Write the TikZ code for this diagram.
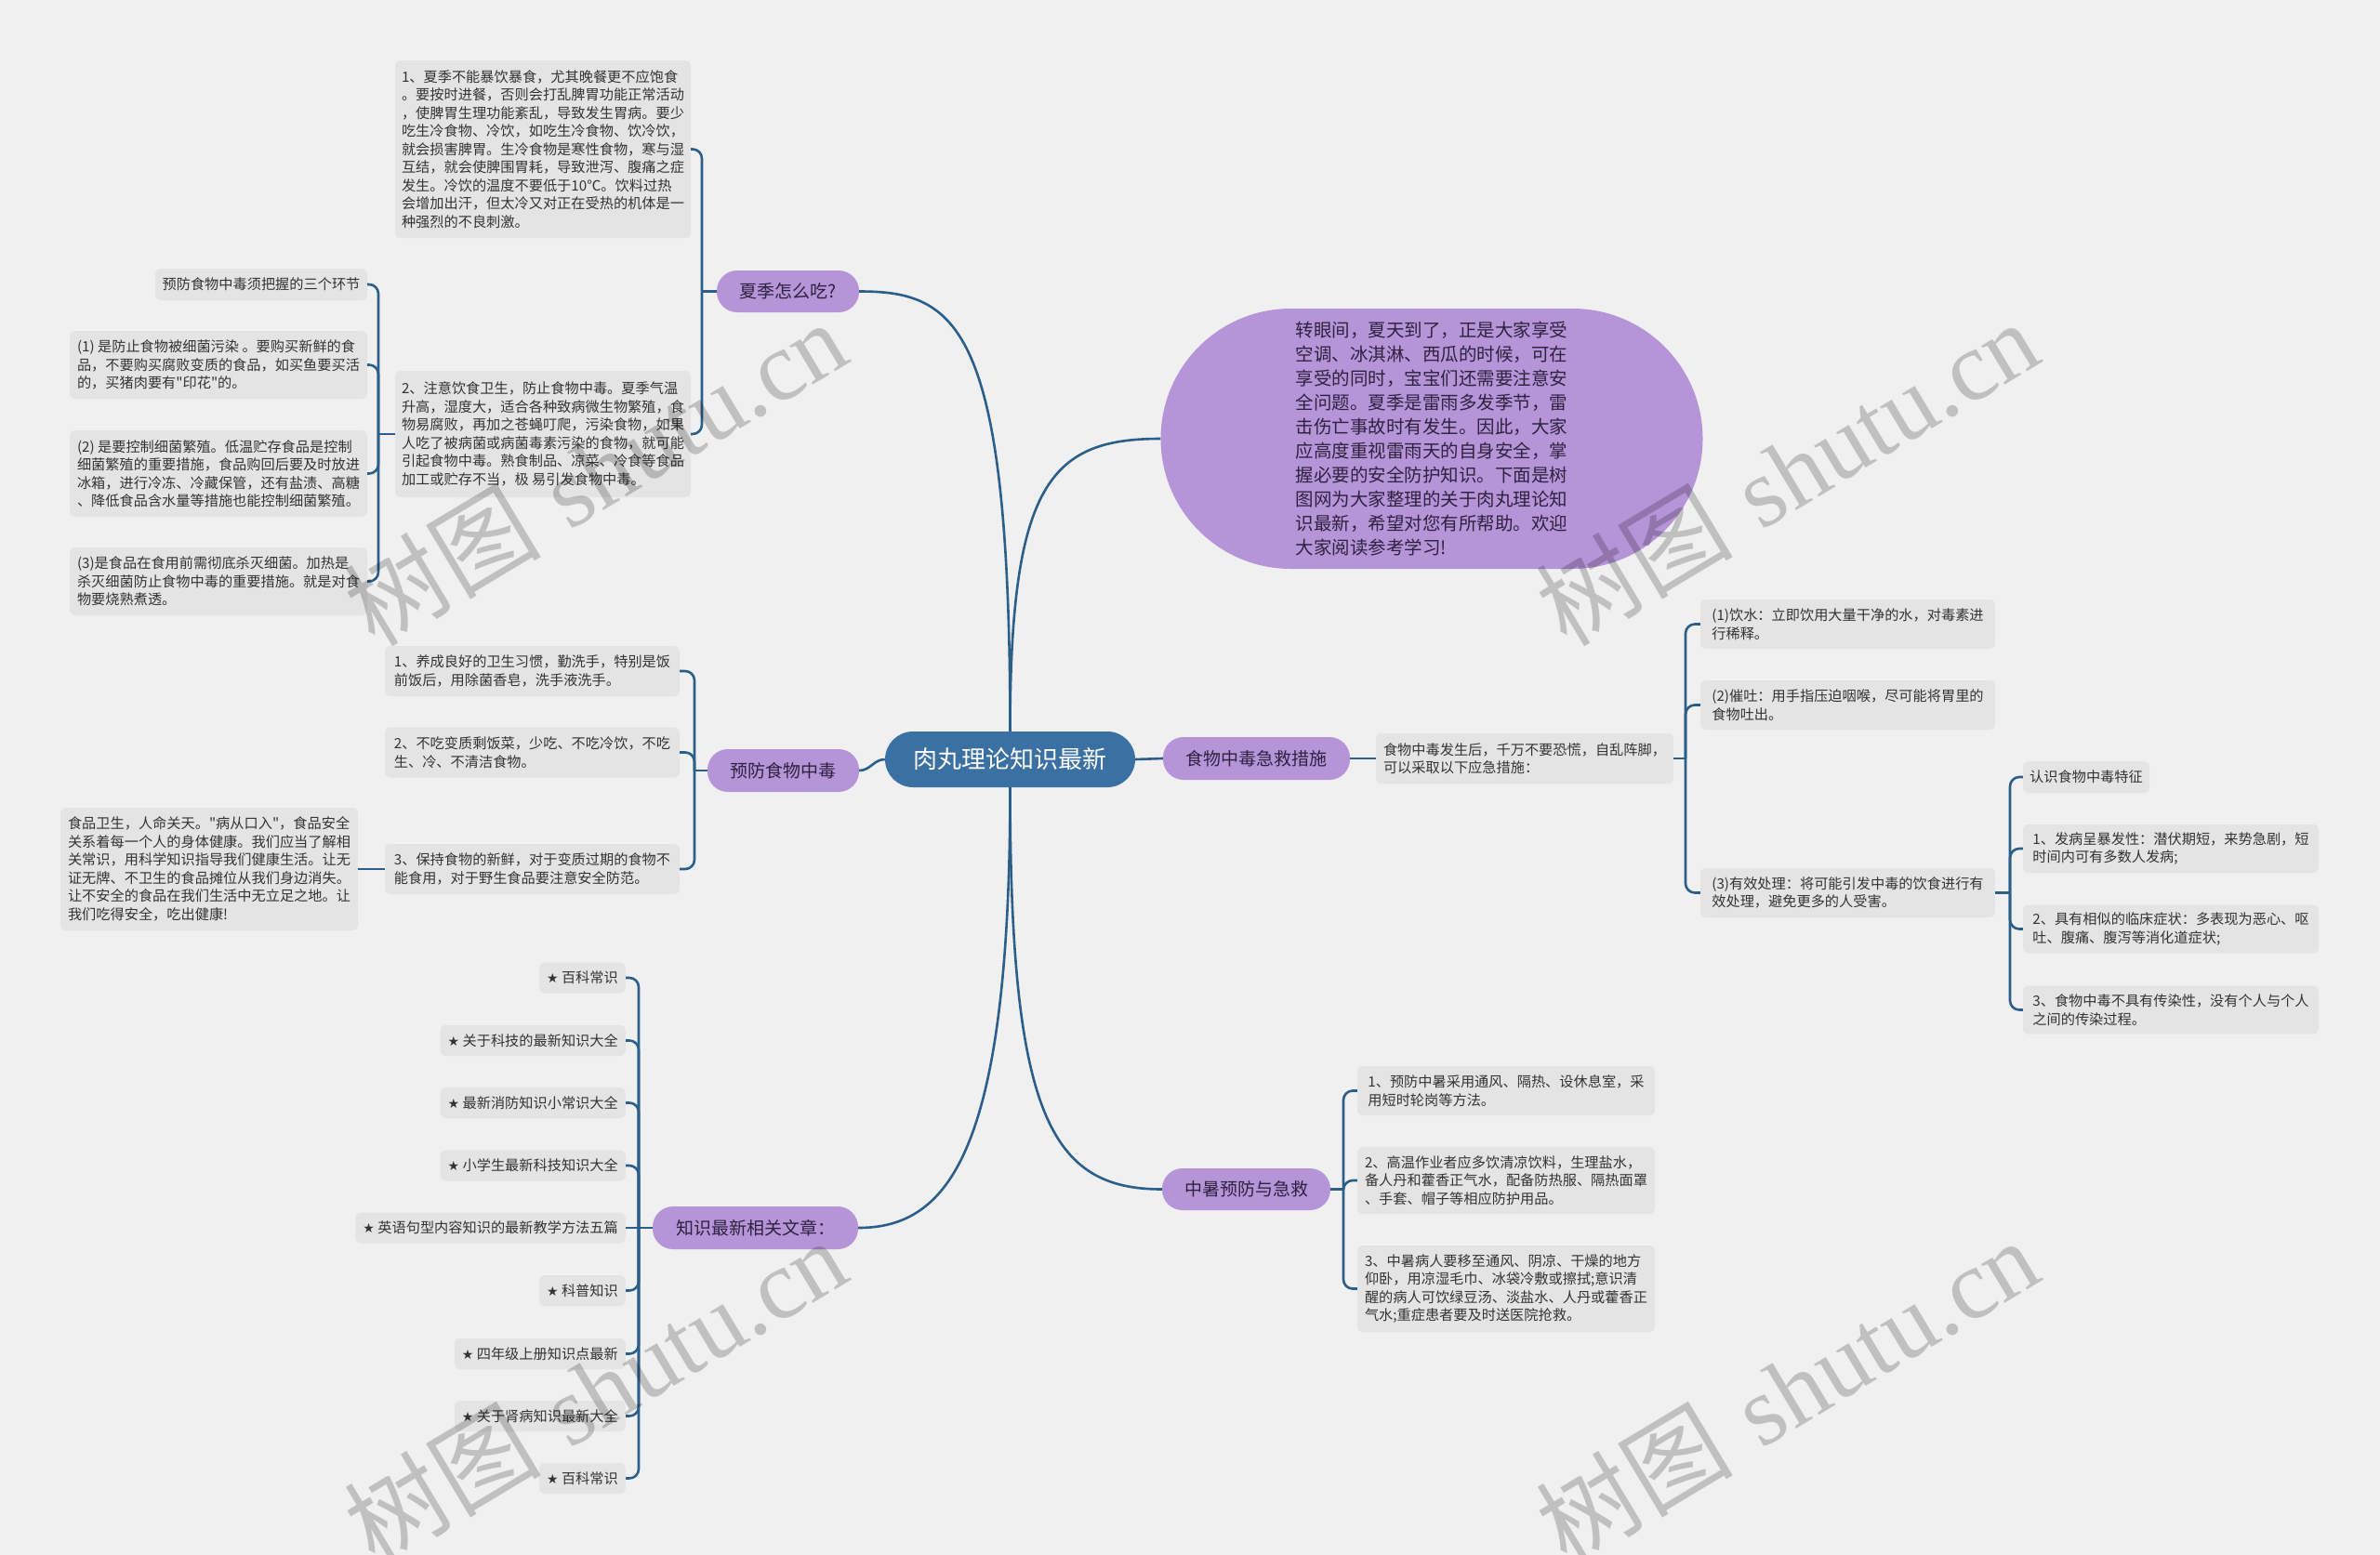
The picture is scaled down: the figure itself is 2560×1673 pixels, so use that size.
\documentclass[tikz,border=0pt]{standalone}
\usepackage{fontspec}
\newfontfamily\cjkf{Noto Sans CJK SC}
\newfontfamily\symf{DejaVu Sans}
\newfontfamily\wmserif{Liberation Serif}
\definecolor{bgc}{HTML}{F0F0F0}
\definecolor{boxc}{HTML}{E4E4E4}
\definecolor{purp}{HTML}{B594D8}
\definecolor{purptext}{HTML}{2F2140}
\definecolor{ctr}{HTML}{3B70A3}
\definecolor{linec}{HTML}{2C5E8A}
\definecolor{txt}{HTML}{333333}
\newcommand{\stx}{{\symf\fontsize{14}{14}\selectfont ★}\ }
\begin{document}
\begin{tikzpicture}[x=1pt,y=-1pt,
  box/.style={fill=boxc, rounded corners=6pt, inner xsep=7pt, inner ysep=0pt, align=left, text=txt, font=\cjkf\fontsize{15.2}{19.5}\selectfont},
  pnode/.style={fill=purp, rounded corners=22pt, minimum height=46pt, inner sep=0pt, text=purptext, font=\cjkf\fontsize{19}{22}\selectfont},
  sitem/.style={box, anchor=east, minimum height=33pt, inner xsep=8pt},
  conn/.style={draw=linec, line width=2.6pt},
  bconn/.style={conn, rounded corners=10pt},
  wm/.style={overlay, rotate=31, text=black, opacity=0.2, font=\fontsize{106}{106}\selectfont}]
\fill[bgc] (0,0) rectangle (2560,1673);
\useasboundingbox (0,0) rectangle (2560,1673);

% central
\node[fill=ctr, rounded corners=30pt, minimum width=269pt, minimum height=60pt, inner sep=0pt, text=white, font=\cjkf\fontsize{26}{30}\selectfont] (c) at (1086.5,817) {肉丸理论知识最新};

% branch nodes
\node[pnode, minimum width=153pt, minimum height=45pt] (xj) at (847.5,313.5) {夏季怎么吃?};
\node[pnode, minimum width=163pt] (yf) at (842.5,829) {预防食物中毒};
\node[pnode, minimum width=221pt] (zs) at (812.5,1321) {知识最新相关文章：};
\node[pnode, minimum width=201pt] (jj) at (1351.5,816) {食物中毒急救措施};
\node[pnode, minimum width=181pt, minimum height=45pt] (zh) at (1340.5,1279.5) {中暑预防与急救};
\node[fill=purp, rounded corners=140pt, minimum width=583pt, minimum height=280pt, inner sep=0pt, align=left, text=purptext, font=\cjkf\fontsize{19.5}{26}\selectfont] (el) at (1540,472) {转眼间，夏天到了，正是大家享受\\空调、冰淇淋、西瓜的时候，可在\\享受的同时，宝宝们还需要注意安\\全问题。夏季是雷雨多发季节，雷\\击伤亡事故时有发生。因此，大家\\应高度重视雷雨天的自身安全，掌\\握必要的安全防护知识。下面是树\\图网为大家整理的关于肉丸理论知\\识最新，希望对您有所帮助。欢迎\\大家阅读参考学习!};

% 夏季怎么吃 children
\node[box, minimum width=316pt, minimum height=191pt] (a1) at (584,160.5) {1、夏季不能暴饮暴食，尤其晚餐更不应饱食\\。要按时进餐，否则会打乱脾胃功能正常活动\\，使脾胃生理功能紊乱，导致发生胃病。要少\\吃生冷食物、冷饮，如吃生冷食物、饮冷饮，\\就会损害脾胃。生冷食物是寒性食物，寒与湿\\互结，就会使脾围胃耗，导致泄泻、腹痛之症\\发生。冷饮的温度不要低于10℃。饮料过热\\会增加出汗，但太冷又对正在受热的机体是一\\种强烈的不良刺激。};
\node[box, minimum width=316pt, minimum height=136pt] (a2) at (584,467) {2、注意饮食卫生，防止食物中毒。夏季气温\\升高，湿度大，适合各种致病微生物繁殖，食\\物易腐败，再加之苍蝇叮爬，污染食物，如果\\人吃了被病菌或病菌毒素污染的食物，就可能\\引起食物中毒。熟食制品、凉菜、冷食等食品\\加工或贮存不当，极 易引发食物中毒。};

\node[box, minimum width=228pt, minimum height=34pt] (p0) at (281,306) {预防食物中毒须把握的三个环节};
\node[box, minimum width=320pt, minimum height=73pt] (p1) at (235,392.5) {(1) 是防止食物被细菌污染 。要购买新鲜的食\\品，不要购买腐败变质的食品，如买鱼要买活\\的，买猪肉要有"印花"的。};
\node[box, minimum width=320pt, minimum height=93pt] (p2) at (235,509.5) {(2) 是要控制细菌繁殖。低温贮存食品是控制\\细菌繁殖的重要措施，食品购回后要及时放进\\冰箱，进行冷冻、冷藏保管，还有盐渍、高糖\\、降低食品含水量等措施也能控制细菌繁殖。};
\node[box, minimum width=320pt, minimum height=73pt] (p3) at (235,625.5) {(3)是食品在食用前需彻底杀灭细菌。加热是\\杀灭细菌防止食物中毒的重要措施。就是对食\\物要烧熟煮透。};

% 预防食物中毒 children
\node[box, minimum width=317pt, minimum height=54pt] (b1) at (572.5,722) {1、养成良好的卫生习惯，勤洗手，特别是饭\\前饭后，用除菌香皂，洗手液洗手。};
\node[box, minimum width=317pt, minimum height=54pt] (b2) at (572.5,809.5) {2、不吃变质剩饭菜，少吃、不吃冷饮，不吃\\生、冷、不清洁食物。};
\node[box, minimum width=317pt, minimum height=54pt] (b3) at (572.5,935) {3、保持食物的新鲜，对于变质过期的食物不\\能食用，对于野生食品要注意安全防范。};
\node[box, minimum width=320pt, minimum height=132pt] (b3c) at (225,935) {食品卫生，人命关天。"病从口入"，食品安全\\关系着每一个人的身体健康。我们应当了解相\\关常识，用科学知识指导我们健康生活。让无\\证无牌、不卫生的食品摊位从我们身边消失。\\让不安全的食品在我们生活中无立足之地。让\\我们吃得安全，吃出健康!};

% 知识最新相关文章 children
\node[sitem] (s1) at (673,1052) {\stx 百科常识};
\node[sitem] (s2) at (673,1119.5) {\stx 关于科技的最新知识大全};
\node[sitem] (s3) at (673,1186.5) {\stx 最新消防知识小常识大全};
\node[sitem] (s4) at (673,1254) {\stx 小学生最新科技知识大全};
\node[sitem] (s5) at (673,1321) {\stx 英语句型内容知识的最新教学方法五篇};
\node[sitem] (s6) at (673,1388.5) {\stx 科普知识};
\node[sitem] (s7) at (673,1456.5) {\stx 四年级上册知识点最新};
\node[sitem] (s8) at (673,1523.5) {\stx 关于肾病知识最新大全};
\node[sitem] (s9) at (673,1590.5) {\stx 百科常识};

% 食物中毒急救措施 children
\node[box, minimum width=320pt, minimum height=54pt] (d0) at (1640,816) {食物中毒发生后，千万不要恐慌，自乱阵脚，\\可以采取以下应急措施：};
\node[box, minimum width=317pt, minimum height=53pt] (d1) at (1987.5,671.5) {(1)饮水：立即饮用大量干净的水，对毒素进\\行稀释。};
\node[box, minimum width=317pt, minimum height=53pt] (d2) at (1987.5,758.5) {(2)催吐：用手指压迫咽喉，尽可能将胃里的\\食物吐出。};
\node[box, minimum width=317pt, minimum height=53pt] (d3) at (1987.5,960.5) {(3)有效处理：将可能引发中毒的饮食进行有\\效处理，避免更多的人受害。};
\node[box, minimum width=136pt, minimum height=34pt] (e0) at (2244,836) {认识食物中毒特征};
\node[box, minimum width=318pt, minimum height=52pt] (e1) at (2335,913) {1、发病呈暴发性：潜伏期短，来势急剧，短\\时间内可有多数人发病;};
\node[box, minimum width=318pt, minimum height=52pt] (e2) at (2335,999.5) {2、具有相似的临床症状：多表现为恶心、呕\\吐、腹痛、腹泻等消化道症状;};
\node[box, minimum width=318pt, minimum height=52pt] (e3) at (2335,1086.5) {3、食物中毒不具有传染性，没有个人与个人\\之间的传染过程。};

% 中暑预防与急救 children
\node[box, minimum width=320pt, minimum height=53pt] (f1) at (1620,1173.5) {1、预防中暑采用通风、隔热、设休息室，采\\用短时轮岗等方法。};
\node[box, minimum width=320pt, minimum height=72pt] (f2) at (1620,1270) {2、高温作业者应多饮清凉饮料，生理盐水，\\备人丹和藿香正气水，配备防热服、隔热面罩\\、手套、帽子等相应防护用品。};
\node[box, minimum width=320pt, minimum height=93pt] (f3) at (1620,1386.5) {3、中暑病人要移至通风、阴凉、干燥的地方\\仰卧，用凉湿毛巾、冰袋冷敷或擦拭;意识清\\醒的病人可饮绿豆汤、淡盐水、人丹或藿香正\\气水;重症患者要及时送医院抢救。};

% main connectors
\draw[conn] (c.north) .. controls (1086.5,350) and (1030,313.5) .. (xj.east);
\draw[conn] (c.north) .. controls (1086.5,520) and (1130,472) .. (el.west);
\draw[conn] (c.south) .. controls (1086.5,1200) and (1130,1279.5) .. (zh.west);
\draw[conn] (c.south) .. controls (1086.5,1240) and (1020,1321) .. (zs.east);
\draw[conn] (c.west) to[out=180,in=0] (yf.east);
\draw[conn] (c.east) -- (jj.west);

% brackets
\coordinate (xjb) at (755,313.5);
\draw[conn] (xj.west) -- (xjb);
\draw[bconn] (xjb) |- (a1.east);
\draw[bconn] (xjb) |- (a2.east);

\coordinate (a2b) at (407,467);
\draw[conn] (a2.west) -- (a2b);
\foreach \n in {p0,p1,p2,p3} \draw[bconn] (a2b) |- (\n.east);

\coordinate (yfb) at (747,829);
\draw[conn] (yf.west) -- (yfb);
\foreach \n in {b1,b2,b3} \draw[bconn] (yfb) |- (\n.east);
\draw[conn] (b3.west) -- (b3c.east);

\coordinate (zsb) at (687,1321);
\draw[conn] (zs.west) -- (zsb);
\foreach \n in {s1,s2,s3,s4,s6,s7,s8,s9} \draw[bconn] (zsb) |- (\n.east);
\draw[conn] (zsb) -- (s5.east);

\draw[conn] (jj.east) -- (d0.west);
\coordinate (d0b) at (1813,816);
\draw[conn] (d0.east) -- (d0b);
\foreach \n in {d1,d2,d3} \draw[bconn] (d0b) |- (\n.west);

\coordinate (d3b) at (2162,960.5);
\draw[conn] (d3.east) -- (d3b);
\foreach \n in {e0,e1,e2,e3} \draw[bconn] (d3b) |- (\n.west);

\coordinate (zhb) at (1445,1279.5);
\draw[conn] (zh.east) -- (zhb);
\foreach \n in {f1,f2,f3} \draw[bconn] (zhb) |- (\n.west);

% watermarks
\node[wm] (w1) at (640,508) {{\cjkf 树图} {\wmserif shutu.cn}};
\node[wm] (w2) at (1922,508) {{\cjkf 树图} {\wmserif shutu.cn}};
\node[wm] (w3) at (640,1496) {{\cjkf 树图} {\wmserif shutu.cn}};
\node[wm] (w4) at (1922,1496) {{\cjkf 树图} {\wmserif shutu.cn}};
\end{tikzpicture}
\end{document}
